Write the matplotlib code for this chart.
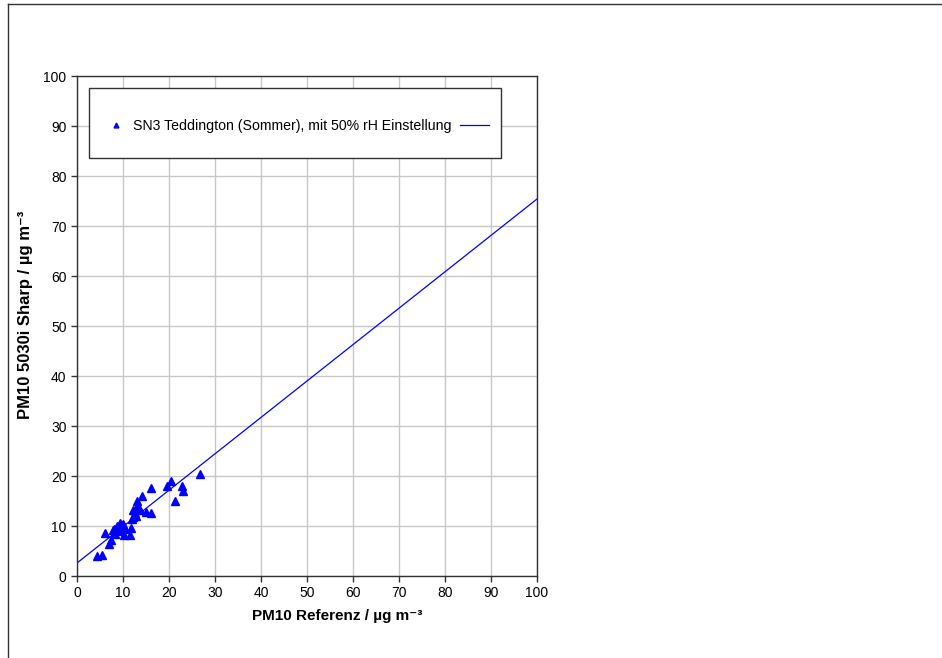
import matplotlib
matplotlib.use('Agg')
from matplotlib import pyplot as plt
from matplotlib.lines import Line2D
from matplotlib.patches import Rectangle
import numpy as np

plt.rcParams['font.family'] = ['Liberation Sans', 'DejaVu Sans']

# PM10 reference vs. 5030i Sharp
ref = [4.4, 5.4, 6.1, 7.0, 7.3, 7.8, 8.1, 8.3, 8.6, 9.0, 9.3, 9.7, 10.1, 10.3,
       10.4, 11.5, 11.8, 11.9, 12.2, 12.2, 12.8, 13.0, 13.1, 13.4, 13.8, 14.1,
       15.1, 16.0, 16.0, 19.6, 20.5, 21.2, 22.8, 23.1, 26.7, 8.9, 9.5, 12.5]
sharp = [4.1, 4.3, 8.7, 6.5, 7.2, 9.2, 9.5, 8.5, 10.0, 9.7, 10.7, 10.2, 10.5, 8.3,
         9.5, 8.3, 9.7, 11.4, 11.9, 13.2, 12.0, 14.0, 15.1, 13.6, 13.2, 16.0,
         12.9, 12.7, 17.7, 18.1, 19.1, 15.1, 18.1, 17.0, 20.4, 9.0, 9.8, 12.6]

# regression line
intercept = 2.6
slope = 0.728
line_x = [0, 100]

label = 'SN3 Teddington (Sommer), mit 50% rH Einstellung'

fig = plt.figure(figsize=(9.42, 6.58), dpi=100)
ax = fig.add_axes([77 / 942, 1 - 576 / 658, 460 / 942, 500 / 658])

ax.plot(ref, sharp, linestyle='none', marker='^', color='#0000ff',
        markersize=6, zorder=3)
ly = [intercept + slope * v for v in line_x]
ax.plot(line_x, ly, color='#0000ff', linewidth=0.9, zorder=2)

ax.set_xlim(0, 100)
ax.set_ylim(0, 100)
ax.set_xticks(np.arange(0, 101, 10))
ax.set_yticks(np.arange(0, 101, 10))
ax.grid(True, color='#c8c8c8', linewidth=1)
ax.set_axisbelow(True)
ax.tick_params(direction='out', length=4, width=1, labelsize=10, color='#333333')
for s in ax.spines.values():
    s.set_color('#333333')
    s.set_linewidth(1)

ax.set_xlabel('PM10 Referenz / µg m⁻³', fontsize=11, fontweight='bold')
ax.xaxis.set_label_coords(0.565, -0.066)
ax.set_ylabel('PM10 5030i Sharp / µg m⁻³', fontsize=12, fontweight='bold')
ax.yaxis.set_label_coords(-0.096, 0.522)

# legend frame (Excel style box)
ax.add_patch(Rectangle((12 / 460, 1 - 82 / 500), 412 / 460, 70 / 500,
                       transform=ax.transAxes, facecolor='white',
                       edgecolor='#333333', linewidth=1, zorder=4))
h1 = Line2D([], [], linestyle='none', marker='^', color='#0000ff', markersize=3.5)
h2 = Line2D([], [], color='#0000ff', linewidth=0.9)
leg = ax.legend([h1, h2], [label, ''], ncol=2, loc='center',
                bbox_to_anchor=(0.478, 0.900), frameon=False, fontsize=10.2,
                borderpad=0, handlelength=2.05, columnspacing=0.6,
                handletextpad=0.18, borderaxespad=0)
leg.set_zorder(5)

# outer frame (left and top edge)
fig.add_artist(Line2D([8 / 942, 8 / 942], [0, 1 - 4 / 658], color='#333333', linewidth=1))
fig.add_artist(Line2D([8 / 942, 1], [1 - 4 / 658, 1 - 4 / 658], color='#333333', linewidth=1))

fig.savefig('out.png', dpi=100)
